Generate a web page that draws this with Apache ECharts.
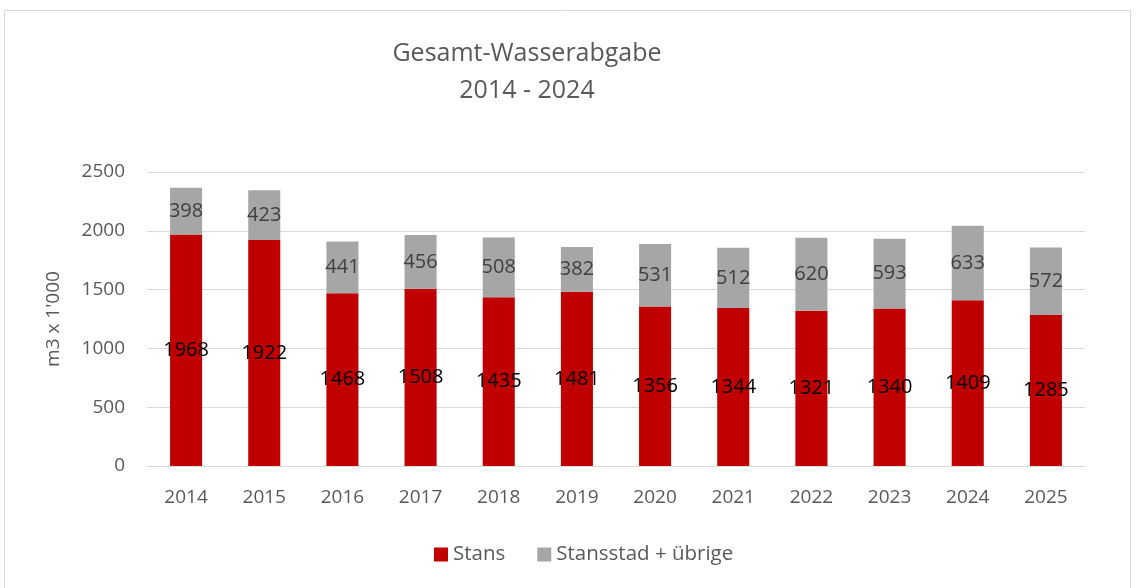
<!DOCTYPE html>
<html>
<head>
<meta charset="utf-8">
<script src="https://cdn.jsdelivr.net/npm/echarts@6/dist/echarts.min.js"></script>
<style>
  html, body { margin: 0; padding: 0; background: #fff; }
  #chart { width: 1136px; height: 588px; }
</style>
</head>
<body>
<div id="chart"></div>
<script>
// Jahre auf der x-Achse
const years = ['2014', '2015', '2016', '2017', '2018', '2019', '2020', '2021', '2022', '2023', '2024', '2025'];
// Stans (m3 x 1'000)
const stans = [1968, 1922, 1468, 1508, 1435, 1481, 1356, 1344, 1321, 1340, 1409, 1285];
// Stansstad + übrige
const stansstad = [398, 423, 441, 456, 508, 382, 531, 512, 620, 593, 633, 572];
const yTicks = [0, 500, 1000, 1500, 2000, 2500];

const font = '"Open Sans", "Liberation Sans", sans-serif';
const chart = echarts.init(document.getElementById('chart'));

chart.setOption({
  animation: false,
  textStyle: { fontFamily: font },
  graphic: [{
    type: 'rect',
    shape: { x: 4.5, y: 10.5, width: 1126, height: 600 },
    style: { fill: 'none', stroke: '#d9d9d9', lineWidth: 1 },
    silent: true
  }],
  title: {
    text: 'Gesamt-Wasserabgabe\n2014 - 2024',
    left: 522,
    top: 30,
    textAlign: 'center',
    textStyle: { fontFamily: font, fontSize: 25, fontWeight: 'normal', color: '#595959', lineHeight: 37 }
  },
  legend: {
    bottom: 18,
    left: 429,
    itemWidth: 14,
    itemHeight: 14,
    itemGap: 32,
    icon: 'rect',
    textStyle: { fontFamily: font, fontSize: 20.5, color: '#595959' },
    data: ['Stans', 'Stansstad + übrige']
  },
  grid: { left: 147, right: 51, top: 172, bottom: 122, containLabel: false },
  xAxis: {
    type: 'category',
    data: years,
    axisLine: { show: true, lineStyle: { color: '#d9d9d9', width: 1 } },
    axisTick: { show: false },
    axisLabel: { fontFamily: font, fontSize: 19, color: '#595959', margin: 22 }
  },
  yAxis: {
    type: 'value',
    min: yTicks[0],
    max: yTicks[yTicks.length - 1],
    interval: 500,
    name: "m3 x 1'000",
    nameLocation: 'middle',
    nameGap: 84,
    nameTextStyle: { fontFamily: font, fontSize: 19, color: '#595959' },
    axisLine: { show: false },
    axisTick: { show: false },
    axisLabel: { fontFamily: font, fontSize: 19, color: '#595959', margin: 22, formatter: v => String(v) },
    splitLine: { lineStyle: { color: '#d9d9d9', width: 1 } }
  },
  series: [
    {
      name: 'Stans',
      type: 'bar',
      stack: 'total',
      data: stans,
      barWidth: '41%',
      itemStyle: { color: '#c00000' },
      label: { show: true, position: 'inside', fontFamily: font, fontSize: 20, color: '#000' }
    },
    {
      name: 'Stansstad + übrige',
      type: 'bar',
      stack: 'total',
      data: stansstad,
      barWidth: '41%',
      itemStyle: { color: '#a6a6a6' },
      label: { show: true, position: 'inside', fontFamily: font, fontSize: 20, color: '#404040' }
    }
  ]
});
</script>
</body>
</html>
